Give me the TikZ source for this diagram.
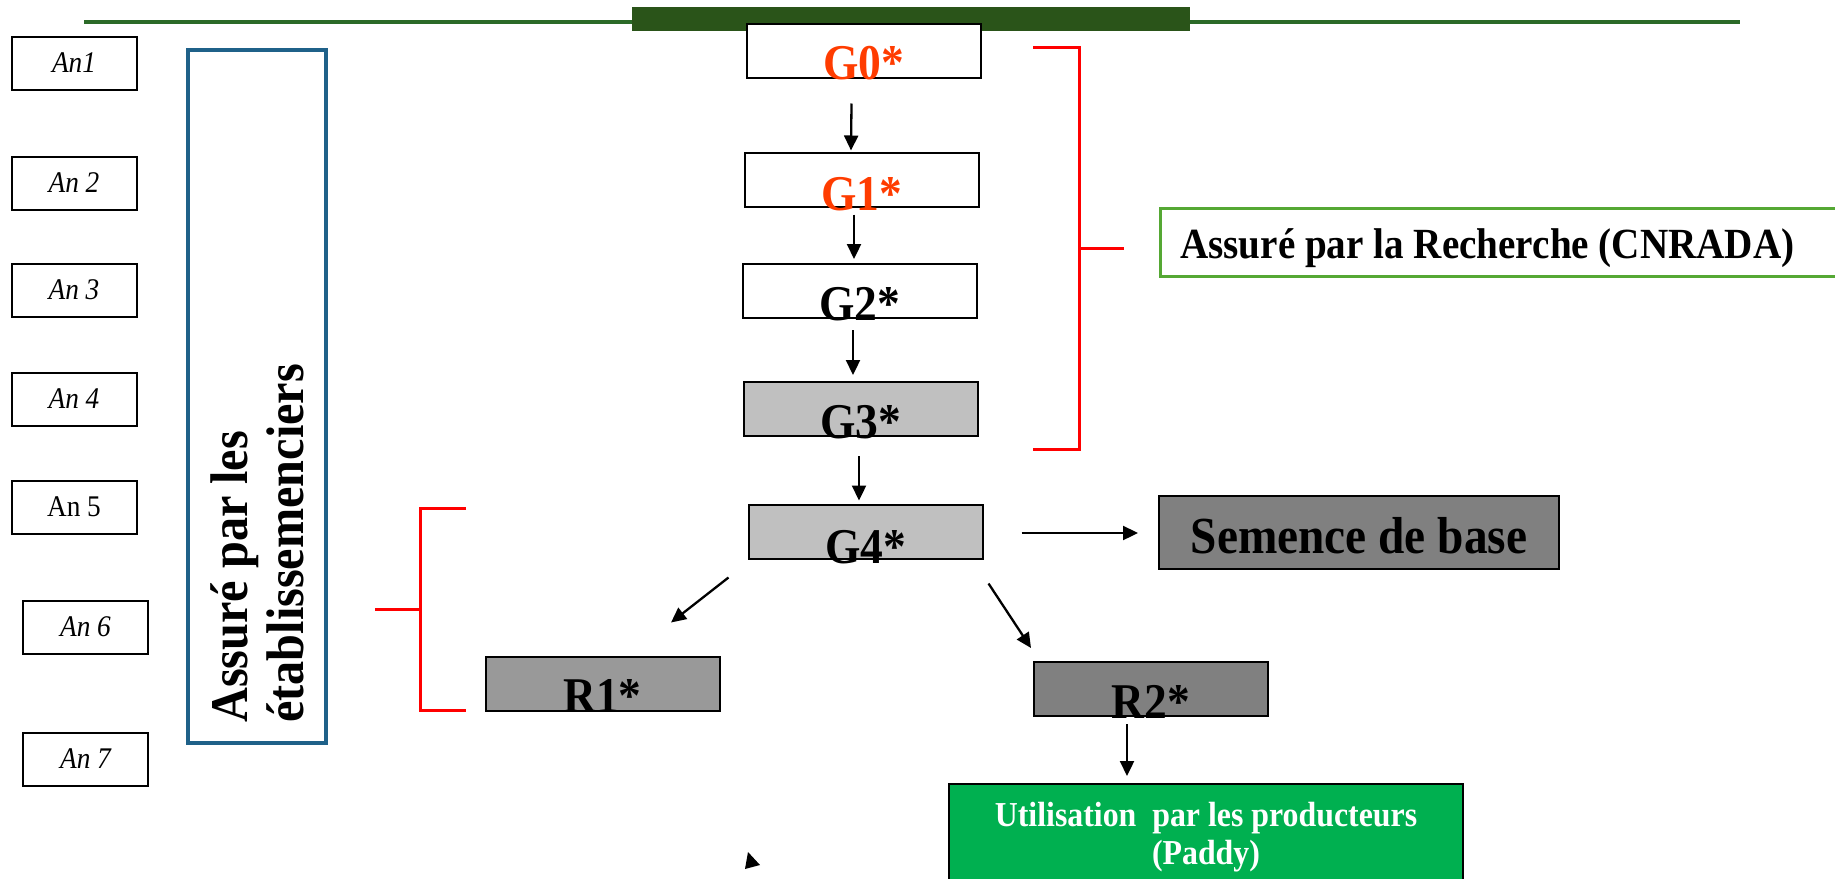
\documentclass[tikz,border=0pt]{standalone}
\usepackage{fontspec}
\setmainfont{Liberation Serif}[FakeStretch=0.91]
\usetikzlibrary{arrows.meta}
\definecolor{balkengruen}{HTML}{2A5419}
\definecolor{liniengruen}{HTML}{2B6A28}
\definecolor{orangerot}{HTML}{FF3C00}
\definecolor{hellgrau}{HTML}{C0C0C0}
\definecolor{mittelgrau}{HTML}{999999}
\definecolor{dunkelgrau}{HTML}{808080}
\definecolor{blaurand}{HTML}{1F6189}
\definecolor{gruenrand}{HTML}{55A834}
\definecolor{saatgruen}{HTML}{00B050}
\begin{document}
\begin{tikzpicture}[x=1pt, y=-1pt,
  jahr/.style={draw, line width=2pt, minimum width=125pt, minimum height=53pt, inner sep=0pt, font=\fontsize{30}{36}\selectfont\itshape},
  gbox/.style={draw, line width=2pt, minimum width=234pt, minimum height=54pt, inner sep=0pt},
  gtext/.style={anchor=base, inner sep=0pt, font=\fontsize{50}{60}\selectfont\bfseries},
  pfeil/.style={line width=2.3pt, -{Triangle[length=15pt, width=14pt]}},
  klammer/.style={red, line width=3pt}]
  \useasboundingbox (0,0) rectangle (1835,878);

  % Kopfleiste
  \draw[liniengruen, line width=4pt] (84,22) -- (1740,22);
  \fill[balkengruen] (632,7) rectangle (1190,31);

  % Jahre
  \node[jahr] (an1) at (74,63) {An1};
  \node[jahr] (an2) at (74,183) {An 2};
  \node[jahr] (an3) at (74,290) {An 3};
  \node[jahr] (an4) at (74,399) {An 4};
  \node[jahr, font=\fontsize{30}{36}\selectfont] (an5) at (74,507) {An 5};
  \node[jahr] (an6) at (85.5,627) {An 6};
  \node[jahr] (an7) at (85.5,759) {An 7};

  % Etablissemenciers
  \node[draw=blaurand, line width=4pt, minimum width=138pt, minimum height=693pt] (etab) at (257,396.5) {};
  \node[rotate=90, anchor=base west, inner sep=0pt, font=\fontsize{53}{56}\selectfont\bfseries] (etab1) at (247,723) {Assuré par les};
  \node[rotate=90, anchor=base west, inner sep=0pt, font=\fontsize{53}{56}\selectfont\bfseries] (etab2) at (303,723) {établissemenciers};

  % Generationen
  \node[gbox, fill=white] (G0) at (863.5,50.5) {};
  \node[gtext, text=orangerot] (G0t) at ([yshift=-1pt]G0.south) {G0*};
  \node[gbox] (G1) at (862,179.5) {};
  \node[gtext, text=orangerot] (G1t) at ([yshift=-3pt]G1.south) {G1*};
  \node[gbox] (G2) at (859.5,291) {};
  \node[gtext] (G2t) at ([yshift=-1pt]G2.south) {G2*};
  \node[gbox, fill=hellgrau] (G3) at (861,409) {};
  \node[gtext] (G3t) at ([yshift=-1pt]G3.south) {G3*};
  \node[gbox, fill=hellgrau] (G4) at (865.5,531.5) {};
  \node[gtext] (G4t) at ([yshift=-4pt]G4.south) {G4*};

  % Recherche
  \node[draw=gruenrand, line width=3pt, minimum width=720pt, minimum height=68pt, anchor=west] (CN) at (1159,242) {};
  \node[anchor=base west, inner sep=0pt, font=\fontsize{43}{50}\selectfont\bfseries] (CNt) at ([xshift=21pt, yshift=-16pt]CN.west) {Assuré par la Recherche (CNRADA)};

  % Semence de base
  \node[draw, line width=2pt, fill=dunkelgrau, minimum width=400pt, minimum height=73pt, text height=41pt, text depth=0pt, font=\fontsize{52}{60}\selectfont\bfseries] (SB) at (1359,532.5) {Semence de base};

  % R1 und R2
  \node[gbox, fill=mittelgrau] (R1) at (602.5,683.5) {};
  \node[gtext] (R1t) at ([yshift=-1pt]R1.south) {R1*};
  \node[gbox, fill=dunkelgrau] (R2) at (1151,689) {};
  \node[gtext] (R2t) at ([yshift=-1.5pt]R2.south) {R2*};

  % Producteurs
  \node[draw, line width=2pt, fill=saatgruen, minimum width=514pt, minimum height=120pt, anchor=north] (UT) at (1206,783) {};
  \node[anchor=north, align=center, inner sep=0pt, text=white, font=\fontsize{35}{38}\selectfont\bfseries] (UTt) at ([yshift=-19pt]UT.north) {Utilisation\ \ par les producteurs\\(Paddy)};

  % Klammern
  \draw[klammer] (1033,47) -- (1079,47) -- (1079,449) -- (1033,449);
  \draw[klammer] (1079,248) -- (1124,248);
  \draw[klammer] (466,508) -- (420,508) -- (420,710) -- (466,710);
  \draw[klammer] (375,609) -- (420,609);

  % Pfeile
  \draw[pfeil] ([xshift=-12pt, yshift=-25pt]G0.south) -- ([xshift=-11pt, yshift=1pt]G1.north);
  \draw[pfeil] ([xshift=-8pt, yshift=-7pt]G1.south) -- ([xshift=-5.5pt, yshift=4pt]G2.north);
  \draw[pfeil] ([xshift=-6.5pt, yshift=-11pt]G2.south) -- ([xshift=-8pt, yshift=6pt]G3.north);
  \draw[pfeil] ([xshift=-2pt, yshift=-19pt]G3.south) -- ([xshift=-6.5pt, yshift=3pt]G4.north);
  \draw[pfeil] ([xshift=38pt, yshift=-1.5pt]G4.east) -- ([xshift=-20pt, yshift=-0.5pt]SB.west);
  \draw[pfeil] ([xshift=-19pt, yshift=-18pt]G4.south west) -- ([xshift=68.5pt, yshift=33pt]R1.north);
  \draw[pfeil] ([xshift=5pt, yshift=-24pt]G4.south east) -- ([xshift=-2pt, yshift=13pt]R2.north west);
  \draw[pfeil] ([xshift=-24pt, yshift=-7pt]R2.south) -- ([xshift=-79pt, yshift=7pt]UT.north);
  \fill (748,852) -- (760,865) -- (745,869) -- cycle;
\end{tikzpicture}
\end{document}
